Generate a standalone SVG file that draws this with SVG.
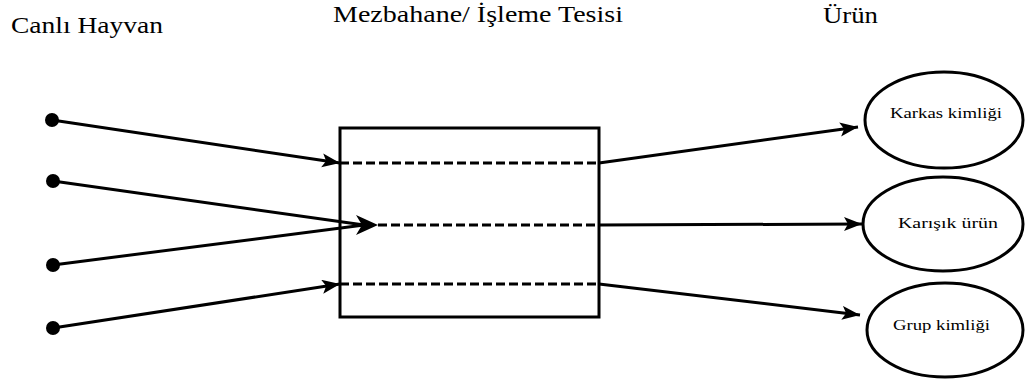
<svg xmlns="http://www.w3.org/2000/svg" width="1027" height="385" viewBox="0 0 1027 385">
<style>
text{font-family:Liberation Serif,DejaVu Serif,serif;fill:#000}
.title{font-size:24px}
.lbl{font-size:15px}
.ln{stroke:#000;stroke-width:3;fill:none}
.dash{stroke:#000;stroke-width:3;fill:none;stroke-dasharray:9 4}
.shape{stroke:#000;stroke-width:3;fill:#fff}
.dot{fill:#000}
</style>
<defs>
<marker id="ah" markerUnits="userSpaceOnUse" markerWidth="20" markerHeight="16" refX="18" refY="7" orient="auto">
<path d="M0,0 L18,7 L0,14 L4,7 Z" fill="#000"/>
</marker>
</defs>
<rect width="1027" height="385" fill="#fff"/>
<g id="titles" font-family="Liberation Serif, serif">
<text class="title" x="11" y="33" textLength="152" lengthAdjust="spacingAndGlyphs">Canlı Hayvan</text>
<text class="title" x="333" y="22" textLength="290" lengthAdjust="spacingAndGlyphs">Mezbahane/ İşleme Tesisi</text>
<text class="title" x="823" y="23" textLength="55" lengthAdjust="spacingAndGlyphs">Ürün</text>
</g>
<g id="sources">
<circle id="src1" class="dot" cx="52" cy="120" r="7"/>
<circle id="src2" class="dot" cx="53" cy="181" r="7"/>
<circle id="src3" class="dot" cx="53" cy="265" r="7"/>
<circle id="src4" class="dot" cx="53" cy="328" r="7"/>
</g>
<g id="facility">
<rect class="shape" x="340" y="128" width="259" height="189"/>
</g>
<g id="connectors">
<path class="ln" d="M52,120 L340,163" marker-end="url(#ah)"/>
<path class="ln" d="M53,181 L364,225"/>
<path class="ln" d="M53,265 L364,225"/>
<path d="M356,215 L378,225 L356,235 L362,225 Z" fill="#000"/>
<path class="ln" d="M53,328 L340,284" marker-end="url(#ah)"/>
<path class="dash" d="M340,163 L599,163"/>
<path class="dash" d="M378,225 L599,225"/>
<path class="dash" d="M340,284 L599,284"/>
<path class="ln" d="M599,163 L858,127" marker-end="url(#ah)"/>
<path class="ln" d="M599,225 L862,224" marker-end="url(#ah)"/>
<path class="ln" d="M599,284 L860,315" marker-end="url(#ah)"/>
</g>
<g id="karkas" font-family="Liberation Serif, serif">
<ellipse class="shape" cx="944" cy="120" rx="79" ry="48"/>
<text class="lbl" x="890" y="118" textLength="112" lengthAdjust="spacingAndGlyphs">Karkas kimliği</text>
</g>
<g id="karisik" font-family="Liberation Serif, serif">
<ellipse class="shape" cx="943" cy="224" rx="80" ry="47"/>
<text class="lbl" x="898" y="228" textLength="100" lengthAdjust="spacingAndGlyphs">Karışık ürün</text>
</g>
<g id="grup" font-family="Liberation Serif, serif">
<ellipse class="shape" cx="945" cy="330" rx="78" ry="47"/>
<text class="lbl" x="893" y="330" textLength="97" lengthAdjust="spacingAndGlyphs">Grup kimliği</text>
</g>
</svg>
